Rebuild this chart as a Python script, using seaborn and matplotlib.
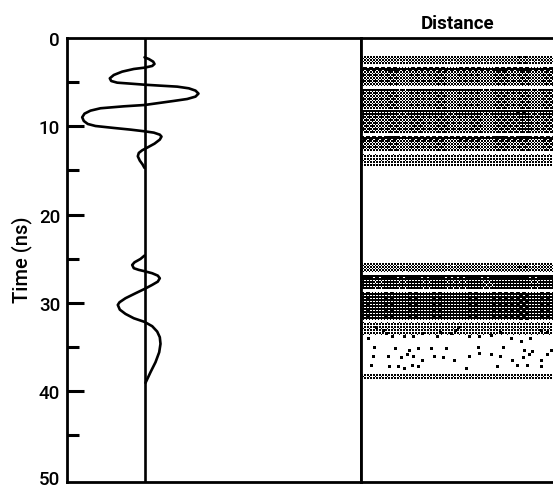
import numpy as np
import matplotlib
matplotlib.use("Agg")
import matplotlib.pyplot as plt
from matplotlib.transforms import ScaledTranslation
import seaborn as sns

trace1_time = [2.19,2.38,2.68,2.94,3.17,3.36,3.51,3.81,4.19,4.57,4.87,5.06,5.17,5.29,5.40,5.51,5.70,5.96,6.30,6.64,6.91,7.13,7.59,7.74,7.96,8.23,8.57,8.98,9.40,9.74,9.97,10.19,10.38,10.57,10.72,10.95,11.17,11.51,11.97,12.42,12.72,13.02,13.40,13.89,14.31,14.72]
trace1_amp = [0,4.3,8.7,10,7.7,0,-10.7,-22.3,-30.7,-34.7,-33.3,-27.3,-14,0,16,32.7,44.3,51,54,51,42.7,29.3,0,-20.7,-44,-54,-60,-62.3,-60.7,-56.7,-49,-30.7,-14,0,9.3,15.3,17,15.3,10,2.7,-2.3,-5.7,-6.7,-4.7,-2,0]
trace2_time = [24.65,25.03,25.41,25.71,26.08,26.27,26.42,26.65,26.92,27.22,27.60,27.97,28.43,28.92,29.48,29.94,30.24,30.77,31.26,31.75,32.16,32.65,33.26,33.90,34.65,35.60,36.73,37.86,39.07]
trace2_amp = [0,-4,-10,-12.3,-10.7,-5.7,0,7.7,13.3,15.3,13.3,7.7,0,-9,-19,-25,-26.7,-24.7,-19,-10.7,0,7.7,12.7,15.3,16,14.7,11,6,1]

band_start = [2.05,3.2,3.7,5.8,6.2,8.2,8.6,11.1,11.5,13.1,25.5,26.8,27.3,28.75,32.2,33.6,37.9]
band_end = [2.95,3.7,5.45,6.2,7.95,8.6,10.7,11.5,12.8,14.5,26.5,27.3,28.3,31.9,33.6,37.9,38.6]
band_level = [0.47,0.85,0.56,0.75,0.56,0.72,0.58,0.85,0.56,0.3,0.47,0.95,0.7,0.78,0.3,0.0,0.3]
distance_shade = [0.02,0.0,0.06,-0.04,0.03,0.0,0.05,-0.03,0.0,0.03,-0.05,0.06,0.02,0.08,-0.04,0.05]

speck_x = [75,100,108,55,125,160,190,215,262,270,300,315,325,355,385,420,450,480,510,540,570,590,70,135,175,200,240,285,380,460,520,545,600,65,110,150,170,190,215,250,280,310,355,385,420,450,485,515,535,570,590,60,115,145,160,185,200,345,440,500,570,530]
speck_y = [232,240,250,265,262,258,258,250,262,245,250,240,235,258,262,255,245,265,275,265,240,245,292,295,300,298,295,295,290,290,300,305,300,320,320,325,315,320,330,320,325,330,320,310,315,320,330,325,315,330,315,345,350,350,355,345,350,355,350,345,350,345]

y_ticks = [0,5,10,15,20,25,30,35,40,45,50]
y_labels = ["0","","10","","20","","30","","40","","50"]

W, H = 553, 489
sns.set_theme(style="white")
plt.rcParams["font.family"] = ["Roboto", "DejaVu Sans"]
fig = plt.figure(figsize=(W/100, H/100), dpi=100, facecolor="white")

def box(x0, y0, x1, y1):
    return [x0/W, 1-y1/H, (x1-x0)/W, (y1-y0)/H]

ax = fig.add_axes(box(67, 39, 361, 483))
ax2 = fig.add_axes(box(361, 39, 553, 483))

sns.lineplot(x=trace1_amp, y=trace1_time, sort=False, estimator=None, color="black", lw=1.9, ax=ax)
sns.lineplot(x=trace2_amp, y=trace2_time, sort=False, estimator=None, color="black", lw=1.9, ax=ax)
ax.axvline(0, color="black", lw=1.9)
ax.set_xlim(-77.5, 216.5)
ax.set_ylim(50.3, 0)
ax.set_xticks([])
ax.set_yticks(y_ticks)
ax.set_yticklabels(y_labels, fontsize=13.5, color="black", fontweight="medium")
ax.tick_params(axis="y", direction="in", length=12, width=2.2, pad=5, left=True, color="black")
lines = ax.yaxis.get_major_ticks()
for i, t in enumerate(lines):
    t.tick1line.set_markersize(12.2 if i % 2 == 0 else 8.8)
lines[0].tick1line.set_visible(False)
lines[-1].tick1line.set_visible(False)
lab = lines[-1].label1
lab.set_transform(lab.get_transform() + ScaledTranslation(0, 1.5/72, fig.dpi_scale_trans))
for s in ax.spines.values():
    s.set_visible(True); s.set_color("black"); s.set_linewidth(2.0)

# ordered-dither texture for the band tones
bayer = np.array([[0,8,2,10],[12,4,14,6],[3,11,1,9],[15,7,13,5]]) / 16 + 1/32
rows, cols = 296, 128
t_per_row = 50.3 / rows
seg = cols / len(distance_shade)
cells = np.zeros((rows, cols))
for a, b, lv in zip(band_start, band_end, band_level):
    r0, r1 = int(round(a/t_per_row)), int(round(b/t_per_row))
    for r in range(r0, r1):
        for c in range(cols):
            shade = distance_shade[int(c/seg)] if lv > 0.4 else 0.0
            cells[r, c] = 1.0 if lv + shade > bayer[r % 4, c % 4] else 0.0
for zx, zy in zip(speck_x, speck_y):
    r, c = int((211 + zy/3)/1.5), int((zx/3 - 11)/1.5)
    if 0 <= c < cols - 1:
        cells[r:r+2, c:c+2] = 1.0
sns.heatmap(cells, ax=ax2, cbar=False, cmap="binary", vmin=0, vmax=1, xticklabels=False, yticklabels=False)
ax2.set_xticks([]); ax2.set_yticks([])
for k in ("top", "bottom", "left"):
    ax2.spines[k].set_visible(True); ax2.spines[k].set_color("black"); ax2.spines[k].set_linewidth(2.0)
ax2.spines["right"].set_visible(False)

fig.text(22/W, 1-260/H, "Time (ns)", rotation=90, ha="center", va="center", fontsize=14.5, color="black", fontweight="medium")
fig.text(458/W, 1-24/H, "Distance", ha="center", va="center", fontsize=13.5, fontweight="bold", color="black")
fig.savefig("out.png", dpi=100)
